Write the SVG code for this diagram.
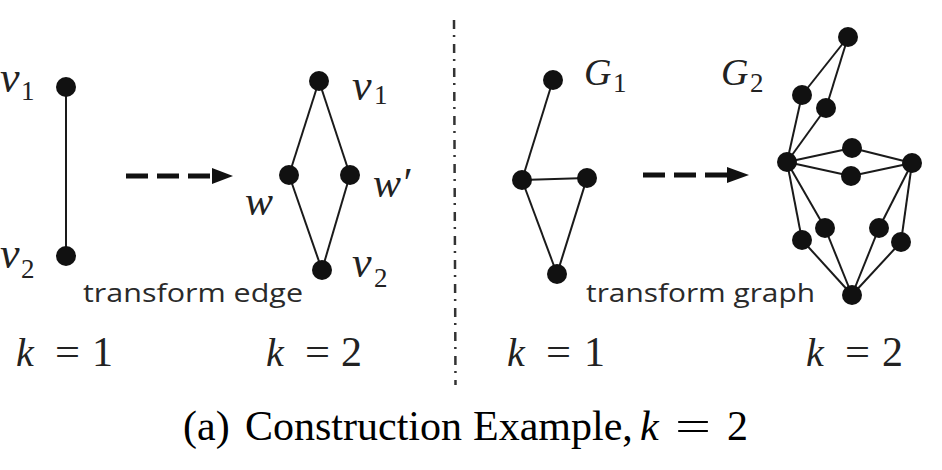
<svg xmlns="http://www.w3.org/2000/svg" width="942" height="470" viewBox="0 0 942 470">
<style>
.edge{stroke:#1a1a1a;stroke-width:2;fill:none}
.node{fill:#111}
.math{font-family:"Liberation Serif",serif;font-style:italic;fill:#222}
.num{font-family:"Liberation Serif",serif;fill:#222}
.sub{font-family:"Liberation Serif",serif;font-size:27px;fill:#222}
.lbl{font-family:"Open Sans","Liberation Sans",sans-serif;font-size:26px;fill:#2a2a2a}
.cap{font-family:"Liberation Serif",serif;font-size:42px;fill:#000}
.dash{stroke:#111;stroke-width:5;stroke-dasharray:22 9;fill:none}
</style>
<rect width="942" height="470" fill="#ffffff"/>

<!-- divider -->
<line x1="454" y1="20" x2="455.5" y2="385" stroke="#333" stroke-width="2.5" stroke-dasharray="9 6 2 7"/>

<!-- connectors -->
<g id="connectors">
  <line class="edge" x1="66" y1="87" x2="66" y2="256"/>
  <line class="edge" x1="319" y1="81" x2="289" y2="175"/>
  <line class="edge" x1="319" y1="81" x2="350" y2="175"/>
  <line class="edge" x1="289" y1="175" x2="322" y2="270"/>
  <line class="edge" x1="350" y1="175" x2="322" y2="270"/>
  <line class="edge" x1="553" y1="80" x2="522" y2="180"/>
  <line class="edge" x1="522" y1="180" x2="587" y2="178"/>
  <line class="edge" x1="522" y1="180" x2="557" y2="274"/>
  <line class="edge" x1="587" y1="178" x2="557" y2="274"/>
  <line class="edge" x1="848" y1="37" x2="802" y2="95"/>
  <line class="edge" x1="848" y1="37" x2="826" y2="108"/>
  <line class="edge" x1="802" y1="95" x2="787" y2="162"/>
  <line class="edge" x1="826" y1="108" x2="787" y2="162"/>
  <line class="edge" x1="787" y1="162" x2="852" y2="148"/>
  <line class="edge" x1="787" y1="162" x2="851" y2="176"/>
  <line class="edge" x1="852" y1="148" x2="912" y2="163"/>
  <line class="edge" x1="851" y1="176" x2="912" y2="163"/>
  <line class="edge" x1="787" y1="162" x2="802" y2="240"/>
  <line class="edge" x1="787" y1="162" x2="825" y2="228"/>
  <line class="edge" x1="912" y1="163" x2="879" y2="228"/>
  <line class="edge" x1="912" y1="163" x2="901" y2="242"/>
  <line class="edge" x1="802" y1="240" x2="852" y2="295"/>
  <line class="edge" x1="825" y1="228" x2="852" y2="295"/>
  <line class="edge" x1="879" y1="228" x2="852" y2="295"/>
  <line class="edge" x1="901" y1="242" x2="852" y2="295"/>
  <!-- transform arrows -->
  <line class="dash" x1="126" y1="176" x2="215" y2="176"/>
  <polygon points="212,168 233,176 212,184" fill="#111"/>
  <line class="dash" x1="643" y1="175" x2="730" y2="175"/>
  <polygon points="727,167 749,175 727,183" fill="#111"/>
</g>

<!-- left graphs -->
<g id="e-v1"><circle class="node" cx="66" cy="87" r="10"/></g>
<g id="e-v2"><circle class="node" cx="66" cy="256" r="10"/></g>
<g id="d-v1"><circle class="node" cx="319" cy="81" r="10"/></g>
<g id="d-w"><circle class="node" cx="289" cy="175" r="10"/></g>
<g id="d-w2"><circle class="node" cx="350" cy="175" r="10"/></g>
<g id="d-v2"><circle class="node" cx="322" cy="270" r="10"/></g>

<!-- G1 -->
<g id="g1-a"><circle class="node" cx="553" cy="80" r="10"/></g>
<g id="g1-b"><circle class="node" cx="522" cy="180" r="10"/></g>
<g id="g1-c"><circle class="node" cx="587" cy="178" r="10"/></g>
<g id="g1-d"><circle class="node" cx="557" cy="274" r="10"/></g>

<!-- G2 -->
<g id="g2-a"><circle class="node" cx="848" cy="37" r="10"/></g>
<g id="g2-b"><circle class="node" cx="802" cy="95" r="10"/></g>
<g id="g2-c"><circle class="node" cx="826" cy="108" r="10"/></g>
<g id="g2-d"><circle class="node" cx="787" cy="162" r="10"/></g>
<g id="g2-e"><circle class="node" cx="852" cy="148" r="10"/></g>
<g id="g2-f"><circle class="node" cx="851" cy="176" r="10"/></g>
<g id="g2-g"><circle class="node" cx="912" cy="163" r="10"/></g>
<g id="g2-h"><circle class="node" cx="802" cy="240" r="10"/></g>
<g id="g2-i"><circle class="node" cx="825" cy="228" r="10"/></g>
<g id="g2-j"><circle class="node" cx="879" cy="228" r="10"/></g>
<g id="g2-k"><circle class="node" cx="901" cy="242" r="10"/></g>
<g id="g2-l"><circle class="node" cx="852" cy="295" r="10"/></g>

<!-- labels -->
<g id="labels">
  <text class="math" x="0" y="92" font-size="44">v</text><text class="sub" x="21" y="100">1</text>
  <text class="math" x="0" y="268" font-size="44">v</text><text class="sub" x="21" y="278">2</text>
  <text class="math" x="352" y="100" font-size="44">v</text><text class="sub" x="374" y="104">1</text>
  <text class="math" x="352" y="277" font-size="44">v</text><text class="sub" x="374" y="287">2</text>
  <text class="math" x="245" y="215" font-size="42">w</text>
  <text class="math" x="373" y="197" font-size="42">w′</text>
  <text class="math" x="584" y="85" font-size="38">G</text><text class="sub" x="613" y="92">1</text>
  <text class="math" x="721" y="85" font-size="38">G</text><text class="sub" x="750" y="92">2</text>
  <text class="lbl" x="83" y="302" textLength="220" lengthAdjust="spacingAndGlyphs">transform edge</text>
  <text class="lbl" x="586" y="302" textLength="229" lengthAdjust="spacingAndGlyphs">transform graph</text>

  <text class="math" x="16" y="366" font-size="40">k</text><text class="num" x="55" y="366" font-size="40" textLength="25" lengthAdjust="spacingAndGlyphs">=</text><text class="num" x="92" y="366" font-size="42">1</text>
  <text class="math" x="266" y="366" font-size="40">k</text><text class="num" x="305" y="366" font-size="40" textLength="25" lengthAdjust="spacingAndGlyphs">=</text><text class="num" x="341" y="366" font-size="42">2</text>
  <text class="math" x="507" y="366" font-size="40">k</text><text class="num" x="546" y="366" font-size="40" textLength="25" lengthAdjust="spacingAndGlyphs">=</text><text class="num" x="584" y="366" font-size="42">1</text>
  <text class="math" x="806" y="366" font-size="40">k</text><text class="num" x="845" y="366" font-size="40" textLength="25" lengthAdjust="spacingAndGlyphs">=</text><text class="num" x="882" y="366" font-size="42">2</text>

  <text class="cap" x="183" y="440">(a)</text>
  <text class="cap" x="245" y="440">Construction</text>
  <text class="cap" x="473" y="440">Example,</text>
  <text class="cap" x="640" y="440" font-style="italic">k</text>
  <text class="cap" x="675" y="440" textLength="36" lengthAdjust="spacingAndGlyphs">=</text>
  <text class="cap" x="727" y="440">2</text>
</g>
</svg>
